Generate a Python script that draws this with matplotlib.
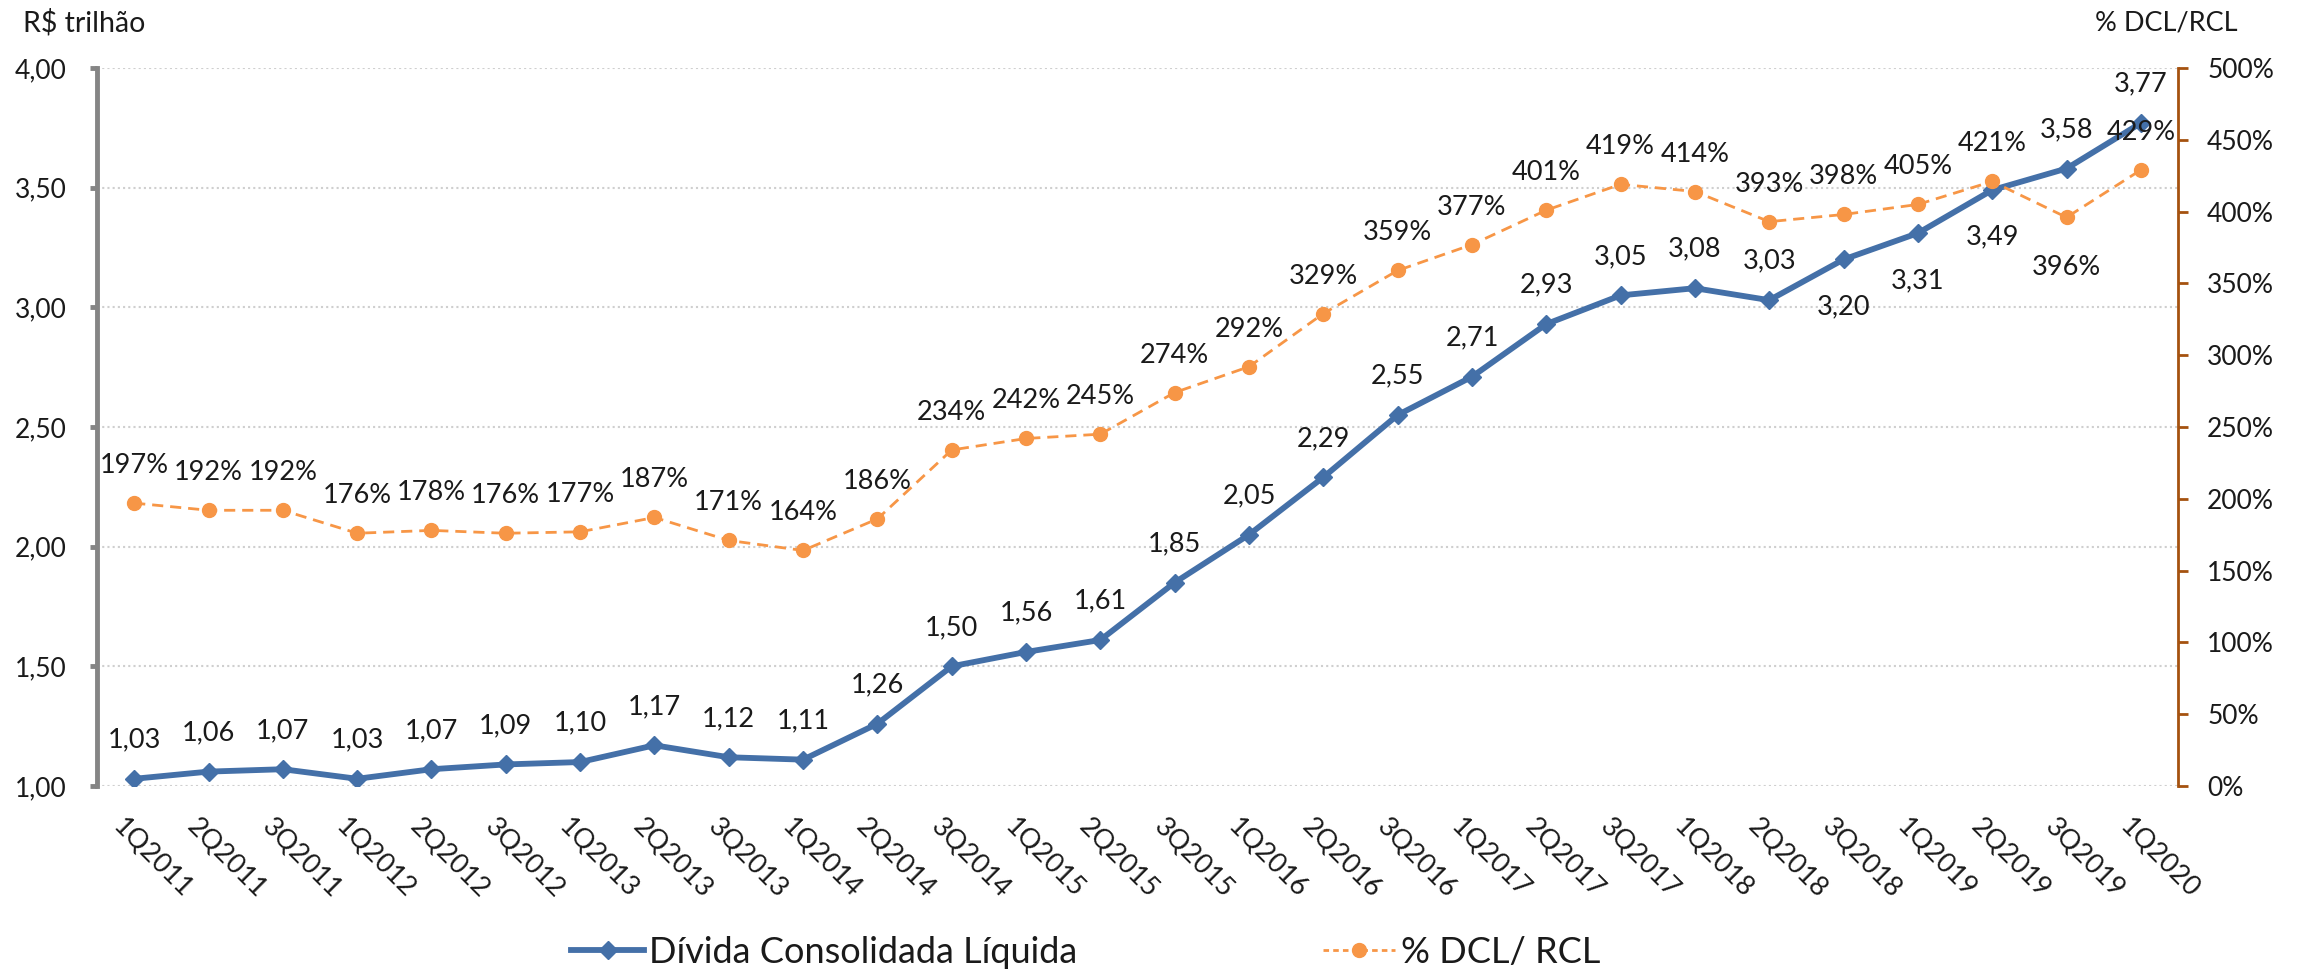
import matplotlib
matplotlib.use("Agg")
import matplotlib.pyplot as plt
from matplotlib.lines import Line2D
import matplotlib.transforms as mtransforms
from matplotlib.ticker import FuncFormatter, MultipleLocator


# quarters on the x axis
quarters = ["1Q2011", "2Q2011", "3Q2011", "1Q2012", "2Q2012", "3Q2012",
            "1Q2013", "2Q2013", "3Q2013", "1Q2014", "2Q2014", "3Q2014",
            "1Q2015", "2Q2015", "3Q2015", "1Q2016", "2Q2016", "3Q2016",
            "1Q2017", "2Q2017", "3Q2017", "1Q2018", "2Q2018", "3Q2018",
            "1Q2019", "2Q2019", "3Q2019", "1Q2020"]

# Divida Consolidada Liquida (R$ trilhao)
dcl = [1.03, 1.06, 1.07, 1.03, 1.07, 1.09, 1.10, 1.17, 1.12, 1.11,
       1.26, 1.50, 1.56, 1.61, 1.85, 2.05, 2.29, 2.55, 2.71, 2.93,
       3.05, 3.08, 3.03, 3.20, 3.31, 3.49, 3.58, 3.77]

# % DCL / RCL
pct = [197, 192, 192, 176, 178, 176, 177, 187, 171, 164,
       186, 234, 242, 245, 274, 292, 329, 359, 377, 401,
       419, 414, 393, 398, 405, 421, 396, 429]

# labels placed under the point instead of above
dcl_below = ["3Q2018", "1Q2019", "2Q2019"]
pct_below = ["3Q2019"]

BLUE = "#4470A8"
ORANGE = "#F79646"
BROWN = "#A5520F"
TXT = "#1a1a1a"
FONT = ["Lato", "DejaVu Sans"]

plt.rcParams['font.family'] = FONT

fig = plt.figure(figsize=(23.05, 9.76), dpi=100)
ax = fig.add_axes([0.0421, 0.1947, 0.9028, 0.7356])
ax2 = ax.twinx()

x = list(range(len(quarters)))

# left axis: debt
ax.plot(x, dcl, color=BLUE, lw=4.2, marker="D", ms=9.5, zorder=3)
ax.set_ylim(1, 4)
ax.yaxis.set_major_locator(MultipleLocator(0.5))
ax.yaxis.set_major_formatter(FuncFormatter(lambda v, p: f"{v:.2f}".replace(".", ",")))
ax.set_xlim(-0.5, len(quarters) - 0.5)
ax.grid(axis="y", color="#cfcfcf", ls=(0, (1, 1.5)), lw=1.5)
ax.set_axisbelow(True)

for s in ["top", "right", "bottom"]:
    ax.spines[s].set_visible(False)
ax.spines["left"].set_color("#858585")
ax.spines["left"].set_linewidth(3.5)
ax.tick_params(axis="y", colors="#858585", width=3.5, length=5, pad=17,
               labelsize=19, labelcolor=TXT)
ax.tick_params(axis="x", length=0, pad=20, labelsize=19.5, labelcolor=TXT)
ax.set_xticks(x)
ax.set_xticklabels(quarters, rotation=-45, ha="left", va="top",
                   rotation_mode="anchor")
shift = mtransforms.ScaledTranslation(-6 / 72, 0, fig.dpi_scale_trans)
for lab in ax.get_xticklabels():
    lab.set_transform(lab.get_transform() + shift)

# right axis: percentage
ax2.plot(x, pct, color=ORANGE, lw=2, ls=(0, (4, 2.5)), marker="o", ms=10,
         zorder=3)
ax2.set_ylim(0, 500)
ax2.yaxis.set_major_locator(MultipleLocator(50))
ax2.yaxis.set_major_formatter(FuncFormatter(lambda v, p: f"{v:.0f}%"))
for s in ["top", "left", "bottom"]:
    ax2.spines[s].set_visible(False)
ax2.spines["right"].set_color(BROWN)
ax2.spines["right"].set_linewidth(2)
ax2.tick_params(axis="y", colors=BROWN, width=2, length=7, pad=14,
                labelsize=19, labelcolor=TXT)

# data labels
for i, v in enumerate(dcl):
    dy = -34 if quarters[i] in dcl_below else 28
    ax.annotate(f"{v:.2f}".replace(".", ","), (i, v), xytext=(0, dy),
                textcoords="offset points", ha="center", va="center",
                fontsize=19.5, color=TXT, zorder=5)
for i, v in enumerate(pct):
    dy = -36 if quarters[i] in pct_below else 27
    ax2.annotate(f"{v}%", (i, v), xytext=(0, dy),
                 textcoords="offset points", ha="center", va="center",
                 fontsize=19.5, color=TXT, zorder=5)

# axis titles
fig.text(0.010, 1 - 23 / 976, "R$ trilhão", ha="left", va="center",
         fontsize=20.5, color=TXT)
fig.text(0.940, 1 - 23 / 976, "% DCL/RCL", ha="center", va="center",
         fontsize=19.5, color=TXT)

# legend
handles = [
    Line2D([], [], color=BLUE, lw=4.2, marker="D", ms=9.5),
    Line2D([], [], color=ORANGE, lw=2, ls=(0, (2, 1.5)), marker="o", ms=10),
]
fig.legend(handles, ["Dívida Consolidada Líquida", "% DCL/ RCL"],
           loc="center", bbox_to_anchor=(0.471, 0.024), ncol=2,
           frameon=False, fontsize=26, handlelength=2.0, handletextpad=0.15,
           columnspacing=6.8, labelcolor=TXT)

fig.savefig("out.png", dpi=100)
